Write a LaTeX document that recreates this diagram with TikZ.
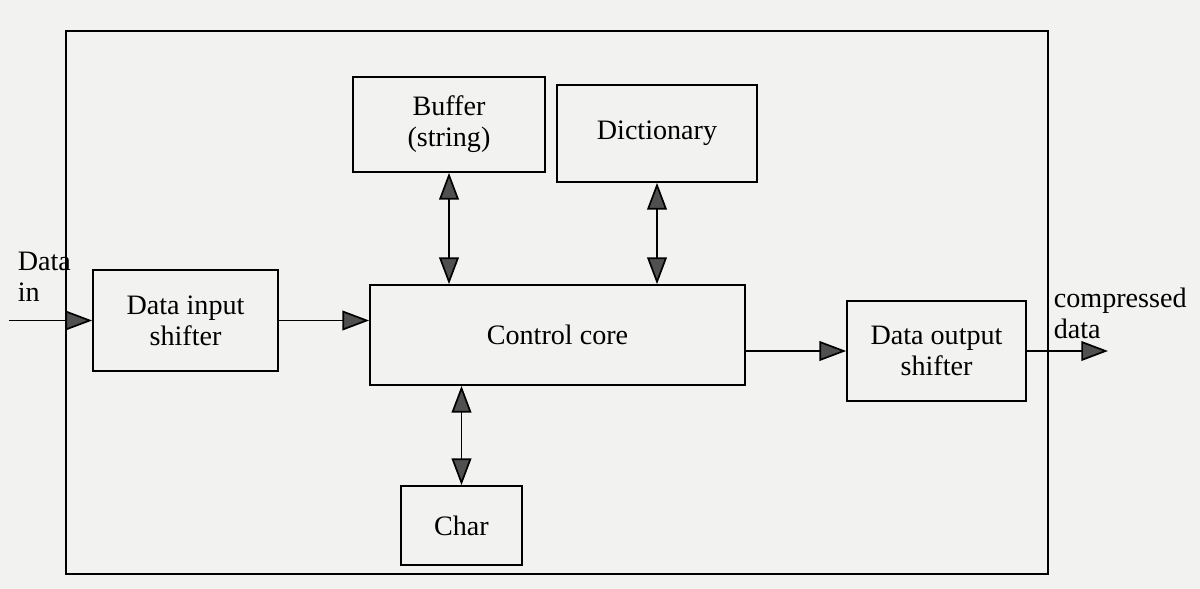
\documentclass[tikz,border=0pt]{standalone}
\usepackage{fontspec}
\setmainfont{Liberation Serif}
\usetikzlibrary{arrows.meta}
\definecolor{paper}{RGB}{242,242,241}
\definecolor{tipgray}{RGB}{80,80,80}
\begin{document}
\begin{tikzpicture}[x=0.025cm,y=-0.025cm,
  font=\fontsize{20}{22}\selectfont,
  line width=1.2pt,
  block/.style={draw, inner sep=0pt, align=center},
  tip/.tip={Triangle[length=19pt,width=14pt,fill=tipgray]},
  flow/.style={-tip},
  link/.style={tip-tip}]
  % page
  \fill[paper] (0,0) rectangle (1200,589);
  \useasboundingbox (0,0) rectangle (1200,589);

  % enclosing system box
  \node[block, minimum width=24.55cm, minimum height=13.575cm] (sys) at (557,302.5) {};

  % functional blocks
  \node[block, minimum width=4.8cm,   minimum height=2.375cm] (buf)  at (449,124.5) {Buffer\\(string)};
  \node[block, minimum width=5.0cm,   minimum height=2.425cm] (dict) at (657,133.5) {Dictionary};
  \node[block, minimum width=9.375cm, minimum height=2.5cm]   (ctrl) at (557.5,335) {Control core};
  \node[block, minimum width=4.625cm, minimum height=2.525cm] (inp)  at (185.5,320.5) {Data input\\shifter};
  \node[block, minimum width=4.475cm, minimum height=2.5cm]   (out)  at (936.5,351) {Data output\\shifter};
  \node[block, minimum width=3.025cm, minimum height=1.975cm] (char) at (461.5,525.5) {Char};

  % external labels
  \node[anchor=west, align=left, inner sep=0pt] (lin)  at (17,277) {Data\\in};
  \node[anchor=west, align=left, inner sep=0pt] (lout) at (1053,313) {compressed\\data};
  \coordinate (inStart) at (9,320.5);
  \coordinate (outEnd)  at (1108,351);

  % data path
  \draw[flow] (inStart) -- (inp.west);
  \draw[flow] (inp.east) -- (inp.east -| ctrl.west);
  \draw[flow] (ctrl.east |- out.west) -- (out.west);
  \draw[flow] (out.east) -- (outEnd);

  % memory links
  \draw[link] (buf.south) -- (buf.south |- ctrl.north);
  \draw[link] (dict.south) -- (dict.south |- ctrl.north);
  \draw[link] (char.north |- ctrl.south) -- (char.north);
\end{tikzpicture}
\end{document}
